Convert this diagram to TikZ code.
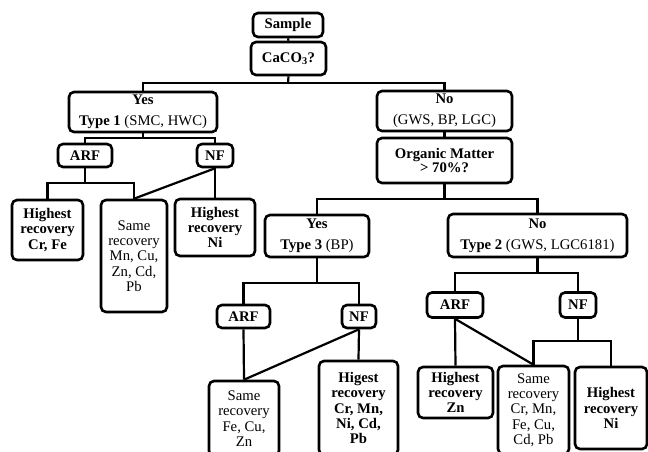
\documentclass[tikz,border=0pt]{standalone}
\usepackage{fontspec}
\setmainfont{Liberation Serif}
\begin{document}
\begin{tikzpicture}[x=1pt,y=-1pt,
  box/.style={draw, line width=2.6pt, rounded corners=5pt, align=center, inner sep=0pt,
    font=\fontsize{14.7}{15.3}\selectfont},
  bbox/.style={box, font=\fontsize{14.7}{15.3}\selectfont\bfseries},
  conn/.style={line width=2.2pt}]
\useasboundingbox (0,0) rectangle (648,451);
\clip (0,0) rectangle (648,451);
% nodes
\node[bbox, minimum width=70, minimum height=24] (sample) at (288,25) {Sample};
\node[bbox, minimum width=75, minimum height=33] (caco3) at (288.5,58.5) {CaCO\textsubscript{3}?};
\node[box, minimum width=148, minimum height=40] (yes1) at (143,112) {\textbf{Yes}\\[5.5pt]\textbf{Type 1} (SMC, HWC)};
\node[box, minimum width=135, minimum height=40] (no1) at (444.5,111) {\textbf{No}\\[6pt](GWS, BP, LGC)};
\node[bbox, minimum width=135, minimum height=45] (org) at (444.5,160.5) {Organic Matter\\[-1pt]\textgreater{} 70\%?};
\node[bbox, minimum width=54, minimum height=23] (arf1) at (85,155.5) {ARF};
\node[bbox, minimum width=36, minimum height=23] (nf1) at (215,155.5) {NF};
\node[bbox, minimum width=71, minimum height=60] (hcrfe) at (47.5,230) {Highest\\recovery\\Cr, Fe};
\node[box, minimum width=66, minimum height=112] (same1) at (134,256) {Same\\recovery\\Mn, Cu,\\Zn, Cd,\\Pb};
\node[bbox, minimum width=80, minimum height=57] (hni1) at (215,227.5) {Highest\\recovery\\Ni};
\node[box, minimum width=104, minimum height=42] (yes3) at (317,236) {\textbf{Yes}\\[5.5pt]\textbf{Type 3} (BP)};
\node[box, minimum width=179, minimum height=43] (no2) at (537.5,235.5) {\textbf{No}\\[5.5pt]\textbf{Type 2} (GWS, LGC6181)};
\node[bbox, minimum width=53, minimum height=23] (arf3) at (243.5,316.5) {ARF};
\node[bbox, minimum width=34, minimum height=23] (nf3) at (359,316.5) {NF};
\node[box, minimum width=70, minimum height=75] (same3) at (244,418.5) {Same\\recovery\\Fe, Cu,\\Zn};
\node[bbox, minimum width=79, minimum height=94] (hig3) at (358.5,408) {Higest\\recovery\\Cr, Mn,\\Ni, Cd,\\Pb};
\node[bbox, minimum width=56, minimum height=25] (arf2) at (455,305) {ARF};
\node[bbox, minimum width=36, minimum height=25] (nf2) at (578,305) {NF};
\node[bbox, minimum width=75, minimum height=51] (hzn) at (455.5,392.5) {Highest\\recovery\\Zn};
\node[box, minimum width=71, minimum height=88] (same2) at (533.5,410) {Same\\recovery\\Cr, Mn,\\Fe, Cu,\\Cd, Pb};
\node[bbox, minimum width=72, minimum height=82] (hni2) at (611,408) {Highest\\recovery\\Ni};
% junctions
\coordinate (j1) at (288,83);
\coordinate (j2) at (444.5,199);
\coordinate (j3) at (143,138);
\coordinate (j4) at (85,183);
\coordinate (j5) at (317,283);
\coordinate (j6) at (537.5,273);
\coordinate (j7) at (578,341);
% connectors
\draw[conn] (sample.south) -- (caco3.north);
\draw[conn] (caco3.south) -- (j1);
\draw[conn] (yes1.north) |- (j1) -| (no1.north);
\draw[conn] (no1.south) -- (org.north);
\draw[conn] (org.south) -- (j2);
\draw[conn] (yes3.north) |- (j2) -| (no2.north);
\draw[conn] (yes1.south) -- (j3);
\draw[conn] (arf1.north) |- (j3) -| (nf1.north);
\draw[conn] (arf1.south) -- (j4);
\draw[conn] (hcrfe.north) |- (j4) -| (same1.north);
\draw[conn] (nf1.south) -- (same1.north);
\draw[conn] (nf1.south) -- (hni1.north);
\draw[conn] (yes3.south) -- (j5);
\draw[conn] (arf3.north) |- (j5) -| (nf3.north);
\draw[conn] (arf3.south) -- (same3.north);
\draw[conn] (nf3.south) -- (same3.north);
\draw[conn] (nf3.south) -- (hig3.north);
\draw[conn] (no2.south) -- (j6);
\draw[conn] (arf2.north) |- (j6) -| (nf2.north);
\draw[conn] (arf2.south) -- (hzn.north);
\draw[conn] (arf2.south) -- (same2.north);
\draw[conn] (nf2.south) -- (j7);
\draw[conn] (same2.north) |- (j7) -| (hni2.north);
\end{tikzpicture}
\end{document}
